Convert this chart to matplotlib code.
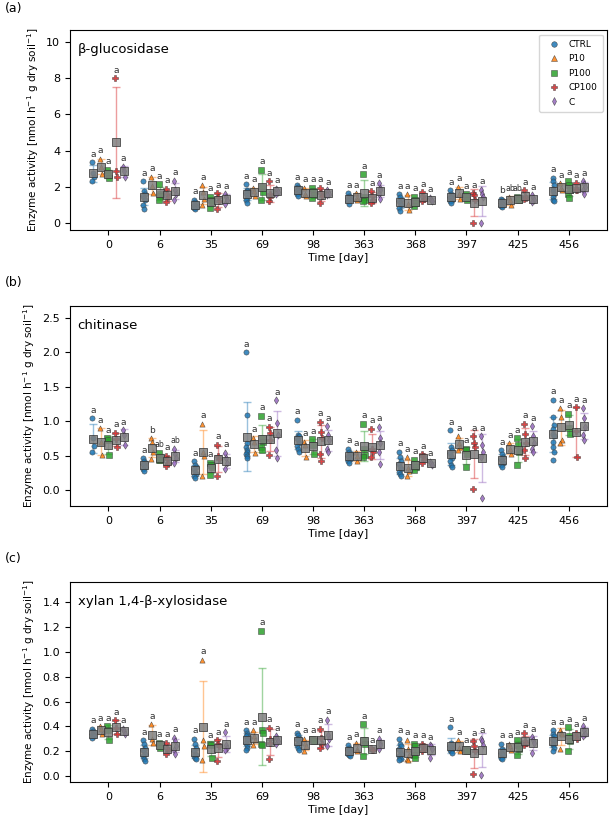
import numpy as np
import matplotlib
matplotlib.use("Agg")
import matplotlib.pyplot as plt
from matplotlib.lines import Line2D

times = ["0", "6", "35", "69", "98", "363", "368", "397", "425", "456"]
treatments = ["CTRL", "P10", "P100", "CP100", "C"]

# ---------------- (a) beta-glucosidase ----------------
glu_CTRL = [[3.35, 2.75, 2.55, 2.3], [2.3, 1.75, 1.6, 1.5, 1.4, 1.3, 1.0, 0.8],
            [1.3, 1.15, 1.05, 1.0, 0.95, 0.9, 0.85, 0.8], [2.15, 1.85, 1.75, 1.65, 1.55, 1.4, 1.3, 1.1],
            [2.1, 2.0, 1.9, 1.85, 1.8, 1.7, 1.6, 1.5], [1.65, 1.5, 1.45, 1.4, 1.35, 1.25, 1.2, 1.05],
            [1.6, 1.45, 1.3, 1.2, 1.1, 1.0, 0.85, 0.65], [1.8, 1.6, 1.5, 1.45, 1.4, 1.3, 1.2, 1.1],
            [1.35, 1.25, 1.15, 1.1, 1.05, 1.0, 0.95, 0.9], [2.5, 2.35, 2.1, 1.9, 1.75, 1.6, 1.45, 1.3, 1.2]]
glu_P10 = [[3.55, 3.1, 2.7], [2.55, 2.05, 1.65], [2.1, 1.7, 1.35, 1.0], [1.95, 1.75, 1.5],
           [1.95, 1.6, 1.5], [1.65, 1.45, 1.3], [1.6, 1.05, 0.75], [2.0, 1.6, 1.35],
           [1.45, 1.3, 1.0], [2.2, 1.95, 1.85]]
glu_P100 = [[2.95, 2.7, 2.5], [2.15, 1.6, 1.5, 1.3], [1.45, 1.3, 1.15, 0.85], [2.95, 2.0, 1.7, 1.25],
            [1.95, 1.75, 1.55, 1.4], [2.7, 1.45, 1.3, 1.2], [1.45, 1.25, 1.1, 0.95], [1.6, 1.45, 1.3],
            [1.45, 1.35, 1.25], [2.35, 2.1, 1.85, 1.6, 1.4]]
glu_CP100 = [[8.0, 2.85, 2.55], [1.9, 1.6, 1.45, 1.15], [1.65, 1.45, 1.2, 0.8], [2.3, 1.6, 1.45, 1.2],
             [1.95, 1.65, 1.5, 1.1], [1.75, 1.5, 1.3, 1.1], [1.7, 1.5, 1.35, 1.2], [1.65, 1.55, 1.3, 0.02],
             [1.8, 1.5, 1.4, 1.35], [2.2, 1.95, 1.85, 1.8]]
glu_C = [[3.1, 2.9, 2.55], [2.35, 1.85, 1.6, 1.3], [1.6, 1.45, 1.3, 1.05], [1.9, 1.8, 1.7, 1.6],
         [1.8, 1.7, 1.6, 1.55], [2.2, 1.95, 1.8, 1.6, 1.35], [1.4, 1.3, 1.2], [1.85, 1.6, 1.45, 0.02],
         [1.55, 1.4, 1.3, 1.15], [2.3, 2.15, 2.0, 1.8, 1.6]]
glu_letters = [["a"] * 5] * 8 + [["b", "ab", "ab", "a", "a"], ["a"] * 5]

# ---------------- (b) chitinase ----------------
chi_CTRL = [[1.04, 0.75, 0.64, 0.56], [0.46, 0.42, 0.4, 0.38, 0.36, 0.34, 0.31, 0.28],
            [0.42, 0.37, 0.33, 0.3, 0.27, 0.24, 0.21, 0.18],
            [2.0, 1.09, 0.68, 0.62, 0.58, 0.55, 0.52, 0.49, 0.46],
            [1.02, 0.8, 0.78, 0.75, 0.72, 0.68, 0.64, 0.6, 0.56],
            [0.6, 0.56, 0.53, 0.5, 0.48, 0.45, 0.42, 0.4],
            [0.56, 0.48, 0.42, 0.38, 0.34, 0.3, 0.27, 0.24, 0.2],
            [0.87, 0.62, 0.58, 0.54, 0.5, 0.46, 0.42, 0.37, 0.33],
            [0.58, 0.52, 0.48, 0.45, 0.42, 0.4, 0.37, 0.33],
            [1.31, 1.06, 0.95, 0.88, 0.82, 0.78, 0.7, 0.62, 0.55, 0.44]]
chi_P10 = [[0.9, 0.7, 0.51], [0.75, 0.7, 0.55, 0.45], [0.96, 0.55, 0.5, 0.2], [0.76, 0.7, 0.54],
           [0.7, 0.66, 0.48], [0.56, 0.5, 0.42], [0.48, 0.32, 0.28, 0.2], [0.78, 0.68, 0.62, 0.58],
           [0.68, 0.6, 0.53], [1.19, 1.06, 0.72, 0.68]]
chi_P100 = [[0.75, 0.72, 0.51], [0.54, 0.46, 0.44, 0.43], [0.4, 0.36, 0.33, 0.22],
            [1.08, 0.75, 0.7, 0.62, 0.58], [0.74, 0.65, 0.52], [0.96, 0.6, 0.51, 0.48],
            [0.44, 0.38, 0.33, 0.29], [0.6, 0.58, 0.52, 0.33], [0.75, 0.65, 0.55, 0.36],
            [1.11, 0.9, 0.82]]
chi_CP100 = [[0.83, 0.74, 0.63], [0.5, 0.45, 0.4, 0.35], [0.66, 0.5, 0.45, 0.2], [0.92, 0.83, 0.72, 0.51],
             [0.99, 0.84, 0.76, 0.52, 0.42], [0.89, 0.6, 0.55, 0.48], [0.52, 0.5, 0.45, 0.4],
             [0.78, 0.68, 0.62, 0.02], [0.96, 0.82, 0.68, 0.58, 0.46], [1.2, 0.86, 0.48]]
chi_C = [[0.87, 0.8, 0.65], [0.6, 0.52, 0.47, 0.4], [0.54, 0.47, 0.4, 0.3], [1.3, 0.97, 0.8, 0.58, 0.46],
         [0.93, 0.8, 0.72, 0.6, 0.56], [0.92, 0.75, 0.68, 0.55, 0.38], [0.41, 0.39, 0.36],
         [0.78, 0.66, 0.56, 0.48, -0.12], [0.93, 0.78, 0.68, 0.6, 0.55], [1.19, 1.05, 0.92, 0.8, 0.72]]
chi_letters = [["a"] * 5, ["a", "b", "ab", "a", "ab"]] + [["a"] * 5] * 8

# ---------------- (c) xylan 1,4-beta-xylosidase ----------------
xyl_CTRL = [[0.38, 0.36, 0.35, 0.34, 0.33, 0.32, 0.31],
            [0.29, 0.26, 0.23, 0.21, 0.2, 0.18, 0.16, 0.14, 0.12],
            [0.3, 0.26, 0.23, 0.2, 0.18, 0.17, 0.16, 0.15, 0.14],
            [0.37, 0.35, 0.33, 0.32, 0.3, 0.29, 0.27, 0.25, 0.23, 0.21],
            [0.35, 0.33, 0.31, 0.3, 0.29, 0.27, 0.25, 0.23, 0.21],
            [0.25, 0.23, 0.22, 0.21, 0.2, 0.19, 0.18, 0.17, 0.16],
            [0.3, 0.26, 0.24, 0.22, 0.2, 0.18, 0.16, 0.15, 0.14, 0.13],
            [0.395, 0.27, 0.25, 0.24, 0.23, 0.22, 0.21, 0.2, 0.19],
            [0.26, 0.22, 0.2, 0.19, 0.18, 0.17, 0.15, 0.14],
            [0.37, 0.34, 0.32, 0.3, 0.29, 0.28, 0.26, 0.25, 0.23, 0.2]]
xyl_P10 = [[0.4, 0.38, 0.34], [0.42, 0.3, 0.27], [0.935, 0.29, 0.24, 0.13], [0.37, 0.32, 0.29, 0.25],
           [0.3, 0.27, 0.24, 0.2], [0.27, 0.22, 0.2], [0.29, 0.22, 0.17, 0.14, 0.13], [0.29, 0.23, 0.2],
           [0.26, 0.24, 0.21], [0.37, 0.35, 0.34, 0.22]]
xyl_P100 = [[0.4, 0.37, 0.29], [0.27, 0.25, 0.23], [0.26, 0.25, 0.15], [1.17, 0.37, 0.35, 0.26, 0.25],
            [0.3, 0.29, 0.28], [0.42, 0.29, 0.26, 0.16], [0.26, 0.24, 0.2, 0.17, 0.15], [0.22, 0.21, 0.2],
            [0.29, 0.25, 0.22, 0.17], [0.395, 0.32, 0.28, 0.2]]
xyl_CP100 = [[0.45, 0.39, 0.34], [0.27, 0.23, 0.21, 0.18], [0.29, 0.26, 0.24, 0.12], [0.39, 0.3, 0.27, 0.14],
             [0.38, 0.31, 0.26, 0.23], [0.225, 0.215, 0.21], [0.26, 0.24, 0.22, 0.2], [0.28, 0.24, 0.2, 0.02],
             [0.345, 0.28, 0.27, 0.25], [0.35, 0.32, 0.3]]
xyl_C = [[0.38, 0.36, 0.34], [0.31, 0.28, 0.24, 0.21, 0.18], [0.355, 0.25, 0.23, 0.21], [0.32, 0.3, 0.28, 0.26],
         [0.455, 0.33, 0.3, 0.24], [0.3, 0.27, 0.25, 0.22], [0.25, 0.24, 0.22, 0.15], [0.3, 0.28, 0.25, 0.01],
         [0.315, 0.29, 0.27, 0.19], [0.4, 0.37, 0.34, 0.32]]
xyl_letters = [["a"] * 5] * 10

panels = [
    ("(a)", "β-glucosidase", [glu_CTRL, glu_P10, glu_P100, glu_CP100, glu_C], glu_letters,
     (-0.38, 10.65), np.arange(0, 10.1, 2), lambda v: f"{v:g}"),
    ("(b)", "chitinase", [chi_CTRL, chi_P10, chi_P100, chi_CP100, chi_C], chi_letters,
     (-0.23, 2.67), np.arange(0, 2.51, 0.5), lambda v: f"{v:.1f}"),
    ("(c)", "xylan 1,4-β-xylosidase", [xyl_CTRL, xyl_P10, xyl_P100, xyl_CP100, xyl_C], xyl_letters,
     (-0.046, 1.56), np.arange(0, 1.41, 0.2), lambda v: f"{v:.1f}"),
]

colors = ["#1f77b4", "#ff7f0e", "#2ca02c", "#d62728", "#9467bd"]
markers = ["o", "^", "s", "P", "d"]
offsets = [-0.3, -0.15, 0.0, 0.15, 0.3]

fig = plt.figure(figsize=(6.09, 8.18), dpi=100)
axes_rects = [[0.115, 0.7188, 0.882, 0.2445],
              [0.115, 0.3814, 0.882, 0.2445],
              [0.115, 0.0440, 0.882, 0.2445]]
label_y = [0.997, 0.662, 0.325]

for pi, (plab, title, series, letters, ylim, yticks, fmt) in enumerate(panels):
    ax = fig.add_axes(axes_rects[pi])
    for ti in range(len(times)):
        for k in range(5):
            vals = np.array(series[k][ti], dtype=float)
            x0 = ti + offsets[k]
            n = len(vals)
            jit = np.array([((i % 3) - 1) * 0.018 for i in range(n)])
            m = vals.mean()
            sd = vals.std(ddof=1) if n > 1 else 0.0
            ax.errorbar(x0, m, yerr=sd, color=colors[k], alpha=0.45, lw=1.0,
                        capsize=3, capthick=1.0, zorder=1)
            ax.scatter(x0 + jit, vals, s=14, marker=markers[k], color=colors[k],
                       edgecolor="0.25", linewidth=0.4, alpha=0.85, zorder=2)
            ax.scatter([x0], [m], s=40, marker="s", color="0.5", edgecolor="0.2",
                       linewidth=0.6, alpha=0.85, zorder=3)
            lab = letters[ti][k]
            ax.annotate(lab, (x0, vals.max()), xytext=(0, 2.5),
                        textcoords="offset points", ha="center", va="bottom",
                        fontsize=6.5 if len(lab) == 1 else 5.6, color="0.2", zorder=4)
    ax.set_xlim(-0.75, 9.75)
    ax.set_ylim(*ylim)
    ax.set_xticks(range(len(times)))
    ax.set_xticklabels(times, fontsize=8)
    ax.set_yticks(yticks)
    ax.set_yticklabels([fmt(v) for v in yticks], fontsize=8)
    ax.set_xlabel("Time [day]", fontsize=8, labelpad=2)
    ax.set_ylabel("Enzyme activity [nmol h$^{-1}$ g dry soil$^{-1}$]", fontsize=7.5)
    ax.text(0.014, 0.935, title, transform=ax.transAxes, fontsize=9.5, va="top", ha="left")
    fig.text(0.008, label_y[pi], plab, fontsize=9, ha="left", va="top")
    if pi == 0:
        handles = [Line2D([], [], linestyle="none", marker=markers[k], color=colors[k],
                          markeredgecolor="0.25", markeredgewidth=0.4, markersize=4, alpha=0.85)
                   for k in range(5)]
        ax.legend(handles, treatments, loc="upper right", fontsize=6.5, frameon=True,
                  handletextpad=0.6, borderpad=0.6, labelspacing=0.6)

fig.savefig("out.png", dpi=100)
